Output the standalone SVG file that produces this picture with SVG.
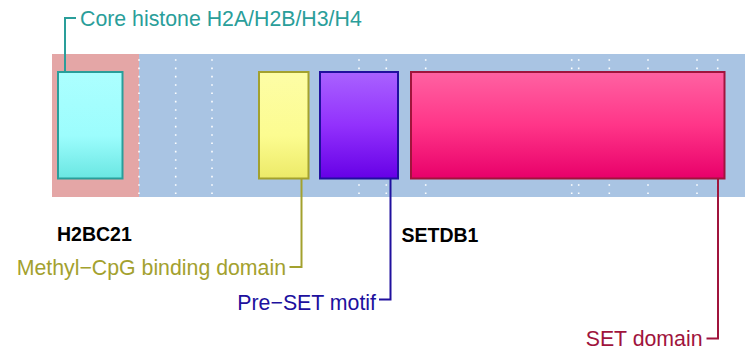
<svg xmlns="http://www.w3.org/2000/svg" width="753" height="358" viewBox="0 0 753 358">
<style>
text{font-family:"Liberation Sans",Arial,sans-serif;font-size:21.3px}
.b{font-weight:bold;font-size:19.5px;fill:#000}
.dots{stroke:#ffffff;stroke-width:1.6;stroke-dasharray:1.6 6.73}
.con{fill:none;stroke-width:2}
.dom{stroke-width:2}
</style>
<defs>
<linearGradient id="gc" x1="0" y1="0" x2="0" y2="1"><stop offset="0" stop-color="#acffff"/><stop offset="0.6" stop-color="#9cfdfd"/><stop offset="1" stop-color="#6ae6e2"/></linearGradient>
<linearGradient id="gy" x1="0" y1="0" x2="0" y2="1"><stop offset="0" stop-color="#fdfda6"/><stop offset="0.6" stop-color="#fcfc90"/><stop offset="1" stop-color="#ecea68"/></linearGradient>
<linearGradient id="gp" x1="0" y1="0" x2="0" y2="1"><stop offset="0" stop-color="#a962ff"/><stop offset="0.5" stop-color="#9231fc"/><stop offset="1" stop-color="#6600e6"/></linearGradient>
<linearGradient id="gr" x1="0" y1="0" x2="0" y2="1"><stop offset="0" stop-color="#ff62a2"/><stop offset="0.5" stop-color="#ff3588"/><stop offset="1" stop-color="#e8006a"/></linearGradient>
</defs>
<g id="background">
<rect x="52" y="54" width="693" height="143" fill="#a9c4e3"/>
<rect x="52" y="54" width="87" height="143" fill="#e4a6a6"/>
</g>
<g id="gridlines" class="dots">
<line x1="139" y1="59.2" x2="139" y2="196"/>
<line x1="175.7" y1="59.2" x2="175.7" y2="196"/>
<line x1="212" y1="59.2" x2="212" y2="196"/>
<line x1="359" y1="59.2" x2="359" y2="196"/>
<line x1="386.3" y1="59.2" x2="386.3" y2="196"/>
<line x1="425.7" y1="59.2" x2="425.7" y2="196"/>
<line x1="571.7" y1="59.2" x2="571.7" y2="196"/>
<line x1="578.7" y1="59.2" x2="578.7" y2="196"/>
<line x1="609.3" y1="59.2" x2="609.3" y2="196"/>
<line x1="648" y1="59.2" x2="648" y2="196"/>
<line x1="697" y1="59.2" x2="697" y2="196"/>
<line x1="717.7" y1="59.2" x2="717.7" y2="196"/>
</g>
<g id="connectors">
<polyline class="con" stroke="#2a9e9a" points="65,72 65,18 76,18"/>
<polyline class="con" stroke="#a3a12e" points="301.5,178 301.5,267 289.5,267"/>
<polyline class="con" stroke="#20109e" points="390.5,178 390.5,299.5 379,299.5"/>
<polyline class="con" stroke="#a0143c" points="718,178 718,338.5 706.5,338.5"/>
</g>
<g id="core-histone">
<rect class="dom" x="58" y="72" width="64.5" height="106.5" fill="url(#gc)" stroke="#2a9e9a"/>
<text x="80" y="26" fill="#2a9e9a">Core histone H2A/H2B/H3/H4</text>
</g>
<g id="methyl-cpg">
<rect class="dom" x="259" y="72" width="49.5" height="106.5" fill="url(#gy)" stroke="#a3a12e"/>
<text x="286" y="275" text-anchor="end" fill="#a3a12e">Methyl−CpG binding domain</text>
</g>
<g id="pre-set">
<rect class="dom" x="320" y="72" width="78" height="106.5" fill="url(#gp)" stroke="#20109e"/>
<text x="376" y="310" text-anchor="end" fill="#20109e">Pre−SET motif</text>
</g>
<g id="set-domain">
<rect class="dom" x="411" y="72" width="313.5" height="106.5" fill="url(#gr)" stroke="#a0143c"/>
<text x="702.5" y="346" text-anchor="end" fill="#a0143c">SET domain</text>
</g>
<g id="protein-labels">
<text class="b" x="57" y="241">H2BC21</text>
<text class="b" x="401.5" y="241.5">SETDB1</text>
</g>
</svg>
